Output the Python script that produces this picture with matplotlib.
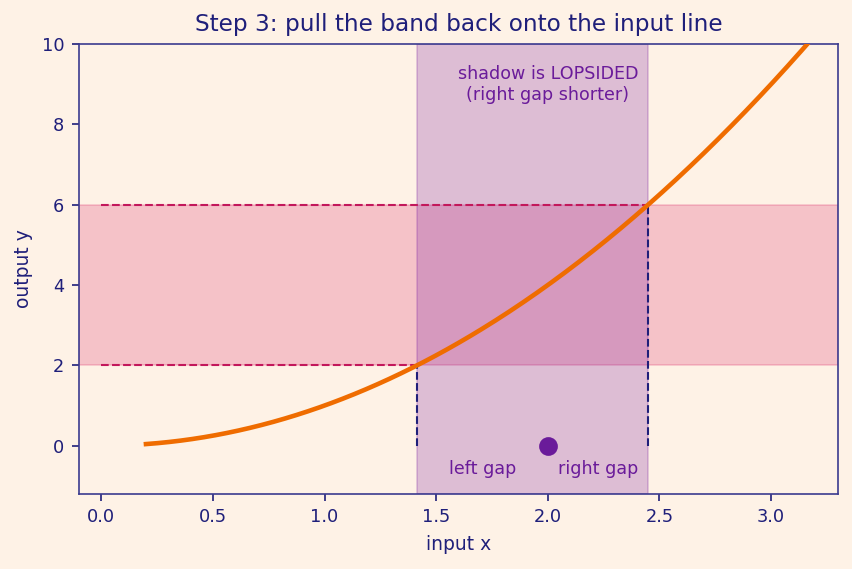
import numpy as np
import matplotlib.pyplot as plt

# band on the output axis and the point on the input axis
y_band = [2, 6]
x_point = 2.0
x_curve = np.linspace(0.2, 3.3, 300)
y_curve = x_curve ** 2
x_band = [np.sqrt(y_band[0]), np.sqrt(y_band[1])]

bg = '#fef2e6'
navy = '#1f1f7a'
purple = '#6a1b9a'

plt.rcParams['text.color'] = navy
plt.rcParams['axes.labelcolor'] = navy
plt.rcParams['xtick.color'] = navy
plt.rcParams['ytick.color'] = navy

fig = plt.figure(figsize=(852 / 150, 569 / 150), dpi=150, facecolor=bg)
ax = fig.add_axes([0.0927, 0.132, 0.891, 0.7907], facecolor=bg)

ax.axhspan(y_band[0], y_band[1], color='#d81b60', alpha=0.22, lw=0.8)
ax.axvspan(x_band[0], x_band[1], color='#7b1fa2', alpha=0.25, lw=0.8)

ax.plot(x_curve, y_curve, color='#ef6c00', lw=2.2, zorder=3)

# dashed guides
for yb, xb in zip(y_band, x_band):
    ax.plot([0, xb], [yb, yb], color='#c2185b', ls='--', lw=1.0)
    ax.plot([xb, xb], [0, yb], color=navy, ls='--', lw=1.0)

ax.plot([x_point], [0], 'o', color=purple, ms=8, zorder=4)

ax.text(2.0, 9.0, 'shadow is LOPSIDED\n(right gap shorter)', color=purple,
        fontsize=8.4, ha='center', va='center', multialignment='center')
ax.text((x_band[0] + x_point) / 2, -0.57, 'left gap', color=purple, fontsize=8.4,
        ha='center', va='center')
ax.text((x_band[1] + x_point) / 2, -0.57, 'right gap', color=purple, fontsize=8.4,
        ha='center', va='center')

ax.set_xlim(-0.1, 3.3)
ax.set_ylim(-1.2, 10)
ax.set_xticks([0.0, 0.5, 1.0, 1.5, 2.0, 2.5, 3.0])
ax.set_yticks([0, 2, 4, 6, 8, 10])
ax.tick_params(labelsize=8.5)
for s in ax.spines.values():
    s.set_color('#3b3b8f')
ax.set_xlabel('input x', fontsize=9)
ax.set_ylabel('output y', fontsize=9)
ax.set_title('Step 3: pull the band back onto the input line', fontsize=11.2, color=navy)

fig.savefig('out.png', dpi=150, facecolor=bg)
